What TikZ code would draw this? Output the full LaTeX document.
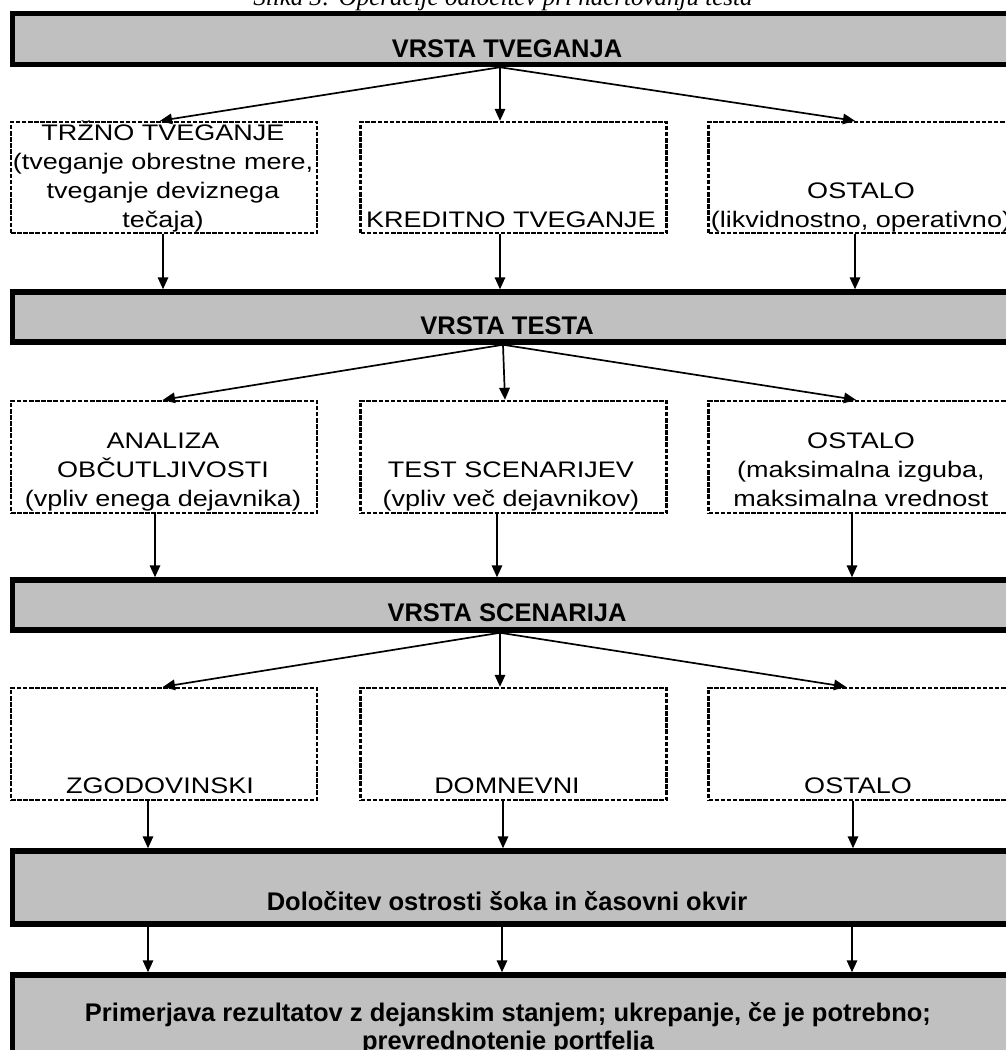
\documentclass[tikz,border=0pt]{standalone}
\usepackage{fontspec}
\setmainfont{Liberation Sans}
\newfontfamily\wideface[FakeStretch=1.2]{Liberation Sans}
\newfontfamily\capface{Liberation Serif}
\usetikzlibrary{arrows.meta}
\definecolor{boxgray}{RGB}{192,192,192}
\begin{document}
\begin{tikzpicture}[x=1pt,y=-1pt,
  hdr/.style={draw=black, fill=boxgray, line width=5.5pt, inner sep=0pt, minimum width=1017.5pt},
  dbox/.style={draw=black, line width=2.4pt, dash pattern=on 4.5pt off 1.6pt, inner sep=0pt, minimum width=306pt, minimum height=111pt},
  txt/.style={anchor=base, inner sep=0pt, font=\wideface\fontsize{22.5}{28}\selectfont},
  btxt/.style={anchor=base, inner sep=0pt, font=\bfseries\fontsize{25.5}{28}\selectfont},
  arr/.style={line width=1.7pt, -{Triangle[length=12pt,width=10.5pt]}}]
\useasboundingbox (0,0) rectangle (1006,1050);
\clip (0,0) rectangle (1006,1050);
\fill[white] (0,0) rectangle (1006,1050);

% caption (cut at the top)
\node[anchor=base, inner sep=0pt, font=\capface\itshape\fontsize{25}{30}\selectfont] (cap) at (503,5) {Slika 3: Operacije odločitev pri načrtovanju testa};

% grey header boxes
\node[hdr, minimum height=51pt] (h1) at (521.25,39) {};
\node[hdr, minimum height=50pt] (h2) at (521.25,317) {};
\node[hdr, minimum height=50pt] (h3) at (521.25,605) {};
\node[hdr, minimum height=73pt] (h4) at (521.25,887.5) {};
\node[hdr, minimum height=95pt] (h5) at (521.25,1022.5) {};

\node[btxt] (h1t) at (507,57) {VRSTA TVEGANJA};
\node[btxt] (h2t) at (507,334) {VRSTA TESTA};
\node[btxt] (h3t) at (507,621) {VRSTA SCENARIJA};
\node[btxt] (h4t) at (507,910) {Določitev ostrosti šoka in časovni okvir};
\node[btxt] (h5t1) at (508,1021) {Primerjava rezultatov z dejanskim stanjem; ukrepanje, če je potrebno;};
\node[btxt] (h5t2) at (508,1049) {prevrednotenje portfelja};

% dashed boxes, row 1
\node[dbox] (r1a) at (164,177.5) {};
\node[dbox] (r1b) at (513.5,177.5) {};
\node[dbox] (r1c) at (861.5,177.5) {};
\node[txt] (r1a1) at (163,140) {TRŽNO TVEGANJE};
\node[txt] (r1a2) at (163,169) {(tveganje obrestne mere,};
\node[txt] (r1a3) at (163,198) {tveganje deviznega};
\node[txt] (r1a4) at (163,227) {tečaja)};
\node[txt] (r1b1) at (511,227) {KREDITNO TVEGANJE};
\node[txt] (r1c1) at (861,198) {OSTALO};
\node[txt] (r1c2) at (861,227) {(likvidnostno, operativno)};

% dashed boxes, row 2
\node[dbox, minimum height=112pt] (r2a) at (164,457) {};
\node[dbox, minimum height=112pt] (r2b) at (513.5,457) {};
\node[dbox, minimum height=112pt] (r2c) at (861.5,457) {};
\node[txt] (r2a1) at (163,448) {ANALIZA};
\node[txt] (r2a2) at (163,477) {OBČUTLJIVOSTI};
\node[txt] (r2a3) at (163,506) {(vpliv enega dejavnika)};
\node[txt] (r2b1) at (511,477) {TEST SCENARIJEV};
\node[txt] (r2b2) at (511,506) {(vpliv več dejavnikov)};
\node[txt] (r2c1) at (861,448) {OSTALO};
\node[txt] (r2c2) at (861,477) {(maksimalna izguba,};
\node[txt] (r2c3) at (861,506) {maksimalna vrednost};

% dashed boxes, row 3
\node[dbox, minimum height=112pt] (r3a) at (164,744) {};
\node[dbox, minimum height=112pt] (r3b) at (513.5,744) {};
\node[dbox, minimum height=112pt] (r3c) at (861.5,744) {};
\node[txt] (r3a1) at (160,793) {ZGODOVINSKI};
\node[txt] (r3b1) at (507,793) {DOMNEVNI};
\node[txt] (r3c1) at (858,793) {OSTALO};

% connectors
\draw[arr] ([xshift=-21.25pt]h1.south) -- ([xshift=-4pt]r1a.north);
\draw[arr] ([xshift=-21.25pt]h1.south) -- ([xshift=-13.5pt]r1b.north);
\draw[arr] ([xshift=-21.25pt]h1.south) -- ([xshift=-6.5pt]r1c.north);

\draw[arr] ([xshift=-1pt]r1a.south) -- ([xshift=-1pt]r1a.south |- h2.north);
\draw[arr] ([xshift=-13.5pt]r1b.south) -- ([xshift=-13.5pt]r1b.south |- h2.north);
\draw[arr] ([xshift=-6.5pt]r1c.south) -- ([xshift=-6.5pt]r1c.south |- h2.north);

\draw[arr] ([xshift=-18.25pt]h2.south) -- ([xshift=-1pt]r2a.north);
\draw[arr] ([xshift=-18.25pt]h2.south) -- ([xshift=-8.5pt]r2b.north);
\draw[arr] ([xshift=-18.25pt]h2.south) -- ([xshift=-5.5pt]r2c.north);

\draw[arr] ([xshift=-9pt]r2a.south) -- ([xshift=-9pt]r2a.south |- h3.north);
\draw[arr] ([xshift=-16.5pt]r2b.south) -- ([xshift=-16.5pt]r2b.south |- h3.north);
\draw[arr] ([xshift=-9.5pt]r2c.south) -- ([xshift=-9.5pt]r2c.south |- h3.north);

\draw[arr] ([xshift=-21.25pt]h3.south) -- ([xshift=-1pt]r3a.north);
\draw[arr] ([xshift=-21.25pt]h3.south) -- ([xshift=-13.5pt]r3b.north);
\draw[arr] ([xshift=-21.25pt]h3.south) -- ([xshift=-15.5pt]r3c.north);

\draw[arr] ([xshift=-16pt]r3a.south) -- ([xshift=-16pt]r3a.south |- h4.north);
\draw[arr] ([xshift=-10.5pt]r3b.south) -- ([xshift=-10.5pt]r3b.south |- h4.north);
\draw[arr] ([xshift=-8.5pt]r3c.south) -- ([xshift=-8.5pt]r3c.south |- h4.north);

\draw[arr] ([xshift=-373.25pt]h4.south) -- ([xshift=-373.25pt]h4.south |- h5.north);
\draw[arr] ([xshift=-19.25pt]h4.south) -- ([xshift=-19.25pt]h4.south |- h5.north);
\draw[arr] ([xshift=330.75pt]h4.south) -- ([xshift=330.75pt]h4.south |- h5.north);
\end{tikzpicture}
\end{document}
